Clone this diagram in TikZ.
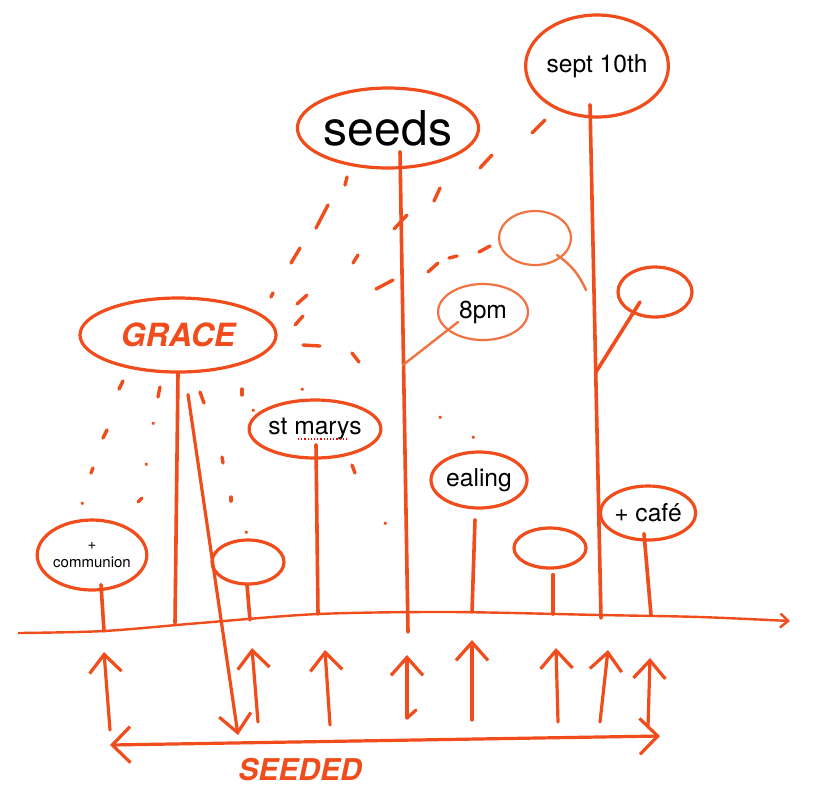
\documentclass[tikz,border=0pt]{standalone}
\usepackage{fontspec}
\setmainfont{TeX Gyre Heros}
\usetikzlibrary{arrows.meta,shapes.geometric,calc}
\definecolor{marker}{HTML}{F04C1C}
\definecolor{markerLight}{HTML}{F07442}

\begin{document}
\begin{tikzpicture}[x=0.5pt, y=-0.5pt,
    every node/.style={font=\fontsize{12.3}{14}\selectfont, text=black},
    bloom/.style={ellipse, draw=marker, line width=1.6pt, inner sep=0pt},
    pale/.style={ellipse, draw=markerLight, line width=1.1pt, inner sep=0pt},
    stem/.style={draw=marker, line width=1.8pt, line cap=round},
    twig/.style={draw=markerLight, line width=1.2pt, line cap=round},
    drop/.style={draw=marker, line width=1.7pt, line cap=round},
    arr/.style={draw=marker, line width=1.6pt, line cap=round,
                -{Straight Barb[length=9pt,width=16pt]}},
    dbl/.style={draw=marker, line width=1.6pt, line cap=round,
                {Straight Barb[length=9pt,width=18pt]}-{Straight Barb[length=9pt,width=18pt]}},
    scrawl/.style={text=marker, font=\bfseries\itshape\fontsize{16}{16}\selectfont}]
  \useasboundingbox (0,0) rectangle (818,800);
  \fill[white] (0,0) rectangle (818,800);

  \node[bloom, minimum width=75pt, minimum height=40pt] (seeds) at (388,128) {\fontsize{24}{26}\selectfont seeds};
  \node[bloom, minimum width=64pt, minimum height=51pt] (sept) at (597,66) {sept 10th};
  \node[pale, minimum width=45pt, minimum height=28pt] (eightpm) at (483,312) {8pm};
  \node[pale, minimum width=36pt, minimum height=27pt] (budtop) at (535,238) {};
  \node[bloom, minimum width=37pt, minimum height=25pt] (budright) at (655,292) {};
  \node[bloom, minimum width=98pt, minimum height=37pt] (grace) at (178,335) {};
  \node[scrawl] (gracetxt) at (grace.center) {GRACE};
  \node[bloom, minimum width=60pt, minimum height=29pt] (stmarys) at (315,429) {st marys};
  \node[bloom, minimum width=48pt, minimum height=28pt] (ealing) at (479,480) {ealing};
  \node[bloom, minimum width=40pt, minimum height=27pt] (cafe) at (648,513) {+ café};
  \node[bloom, minimum width=47pt, minimum height=35pt, align=center,
        font=\fontsize{7.5}{9}\selectfont] (comm) at (92,555) {+\\communion};
  \node[bloom, minimum width=36pt, minimum height=22pt] (bud1) at (248,562) {};
  \node[bloom, minimum width=36pt, minimum height=20pt] (bud3) at (550,548) {};
  \draw[red, line width=0.6pt, densely dotted] ($(stmarys.center)+(-17,10)$) -- ++(50,0);

  \coordinate (g1) at (104,631);
  \coordinate (g2) at (175,623);
  \coordinate (g3) at (250,620);
  \coordinate (g4) at (318,614);
  \coordinate (g5) at (408,632);
  \coordinate (g6) at (472,612);
  \coordinate (g7) at (553,614);
  \coordinate (g8) at (601,618);
  \coordinate (g9) at (651,615);
  \coordinate (j1) at (403,365);
  \coordinate (j2) at (596,372);
  \coordinate (bt) at (586,290);
  \coordinate (sd) at (238,735);

  \draw[draw=marker, line width=1.2pt, -{Straight Barb[length=4pt,width=7pt]}]
    plot[smooth] coordinates {(18,633) (104,631) (200,623) (318,614) (450,612) (600,615) (700,617) (790,621)};

  \draw[stem] ([xshift=4.5pt,yshift=3.5pt]comm.south) -- (g1);
  \draw[stem] (grace.south) -- (g2);
  \draw[arr] ([xshift=5pt,yshift=-10.5pt]grace.south) -- (sd);
  \draw[stem] ([xshift=-0.5pt,yshift=0.5pt]bud1.south) -- (g3);
  \draw[stem] ([xshift=0.5pt,yshift=7.5pt]stmarys.south) -- (g4);
  \draw[stem] ([xshift=6pt,yshift=9pt]seeds.south) -- (g5);
  \draw[stem] ([xshift=-2pt,yshift=-5pt]ealing.south) -- (g6);
  \draw[stem] ([xshift=1.5pt,yshift=-2.5pt]bud3.south) -- (g7);
  \draw[stem] ([xshift=-3.5pt,yshift=7pt]sept.south) -- (g8);
  \draw[stem] ([xshift=-2pt,yshift=4pt]cafe.south) -- (g9);
  \draw[twig] ([xshift=-12.5pt,yshift=-5pt]eightpm.center) -- (j1);
  \draw[stem] ([xshift=-7.5pt,yshift=-5pt]budright.center) -- (j2);
  \draw[twig] ([xshift=11pt,yshift=-8.5pt]budtop.center) to[bend left=15] (bt);

  \foreach \xa/\ya/\xb/\yb in {347/177/345/185, 328/205/316/228, 300/248/291/263,
      358/255/353/263, 273/293/271/297, 307/295/297/304, 303/316/295/325,
      303/345/320/346, 352/353/359/362, 302/389/302.5/389.5, 440/188/434/201,
      492/155/480/168, 545/120/532/133, 407/215/394/229, 393/280/376/289,
      438/263/428/272, 457/256/449/258, 490/246/479/252, 440/417/440.5/417.5,
      473/437/473.5/437.5, 123/381/119/389, 160/387/158/397, 200/392/204/403,
      242/389/242/395, 253/410/253.5/410.5, 153/423/153.5/423.5, 107/430/103/438,
      222/457/223/463, 146/464/146.5/464.5, 93/468/91/473, 142/498/138/502,
      82/503/82.5/503.5, 231/497/231/501, 352/465/355/473, 385/523/385.5/523.5,
      246/532/246.5/532.5}
    \draw[drop] (\xa,\ya) -- (\xb,\yb);

  \foreach \i/\xa/\ya/\xb/\yb in {1/110/730/104/652, 2/258/722/252/648, 3/330/725/325/650,
      4/407/718/407/655, 5/472/720/472/640, 6/558/722/556/648, 7/600/722/608/650,
      8/648/727/650/658} {
    \coordinate (lo\i) at (\xa,\ya);
    \coordinate (hi\i) at (\xb,\yb);
    \draw[arr] (lo\i) -- (hi\i);
  }
  \draw[stem, line width=1.6pt] (lo4) -- ++(9,-8);

  \coordinate (sl) at (110,745);
  \coordinate (sr) at (660,736);
  \draw[dbl] (sl) -- (sr);
  \node[scrawl, font=\bfseries\itshape\fontsize{15}{15}\selectfont] (seeded) at (300,770) {SEEDED};
\end{tikzpicture}
\end{document}
